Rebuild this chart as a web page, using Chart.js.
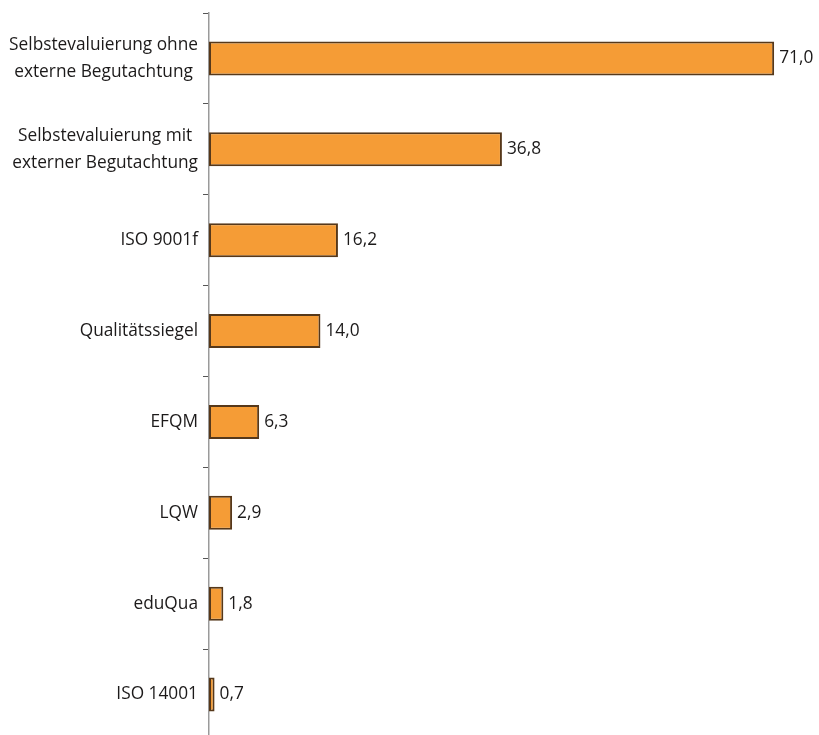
<!DOCTYPE html>
<html>
<head>
<meta charset="utf-8">
<script src="https://cdn.jsdelivr.net/npm/chart.js@4"></script>
<style>
  html, body { margin: 0; padding: 0; background: #fff; overflow: hidden; }
  #wrap { width: 819px; height: 740px; }
</style>
</head>
<body>
<div id="wrap"><canvas id="chart"></canvas></div>
<script>
var categories = [
  ['Selbstevaluierung ohne', 'externe Begutachtung'],
  ['Selbstevaluierung mit', 'externer Begutachtung'],
  'ISO 9001f',
  'Qualitätssiegel',
  'EFQM',
  'LQW',
  'eduQua',
  'ISO 14001'
];
var values = [71.0, 36.8, 16.2, 14.0, 6.3, 2.9, 1.8, 0.7];
var valueLabels = ['71,0', '36,8', '16,2', '14,0', '6,3', '2,9', '1,8', '0,7'];

var fontFamily = '"Open Sans", "DejaVu Sans", sans-serif';
var axisLeft = 209;

// draws the category labels (centred line block) and the values next to the bars
var labelPlugin = {
  id: 'labelPlugin',
  afterDraw: function (chart) {
    var ctx = chart.ctx;
    var yScale = chart.scales.y;
    ctx.save();
    ctx.fillStyle = '#1c1a1a';
    ctx.font = '17.3px ' + fontFamily;
    ctx.textBaseline = 'middle';
    for (var i = 0; i < categories.length; i++) {
      var lines = Array.isArray(categories[i]) ? categories[i] : [categories[i]];
      var y = yScale.getPixelForTick(i);
      var maxW = 0;
      for (var j = 0; j < lines.length; j++) {
        maxW = Math.max(maxW, ctx.measureText(lines[j]).width);
      }
      var cx = axisLeft - 11 - maxW / 2;
      ctx.textAlign = 'center';
      for (var j = 0; j < lines.length; j++) {
        var ly = y + (j - (lines.length - 1) / 2) * 27;
        ctx.fillText(lines[j], cx, ly);
      }
    }
    var meta = chart.getDatasetMeta(0);
    ctx.textAlign = 'left';
    for (var i = 0; i < meta.data.length; i++) {
      var bar = meta.data[i];
      ctx.fillText(valueLabels[i], bar.x + 5, bar.y);
    }
    ctx.restore();
  }
};

new Chart(document.getElementById('chart'), {
  type: 'bar',
  data: {
    labels: categories,
    datasets: [{
      data: values,
      backgroundColor: '#f59c36',
      borderColor: '#56381a',
      borderWidth: 2,
      borderSkipped: false,
      categoryPercentage: 1,
      barPercentage: 0.375
    }]
  },
  options: {
    indexAxis: 'y',
    responsive: true,
    maintainAspectRatio: false,
    animation: false,
    layout: { padding: { top: 13, right: 13, bottom: 0, left: 0 } },
    plugins: {
      legend: { display: false },
      tooltip: { enabled: false }
    },
    scales: {
      x: {
        display: false,
        min: 0,
        max: 75
      },
      y: {
        offset: true,
        afterFit: function (scale) { scale.width = axisLeft; },
        border: { display: true, color: '#9a9a9a', width: 1.5 },
        grid: {
          offset: true,
          drawOnChartArea: false,
          drawTicks: true,
          tickLength: 6,
          color: '#555555',
          lineWidth: 1
        },
        ticks: {
          display: false
        }
      }
    }
  },
  plugins: [labelPlugin]
});
</script>
</body>
</html>
